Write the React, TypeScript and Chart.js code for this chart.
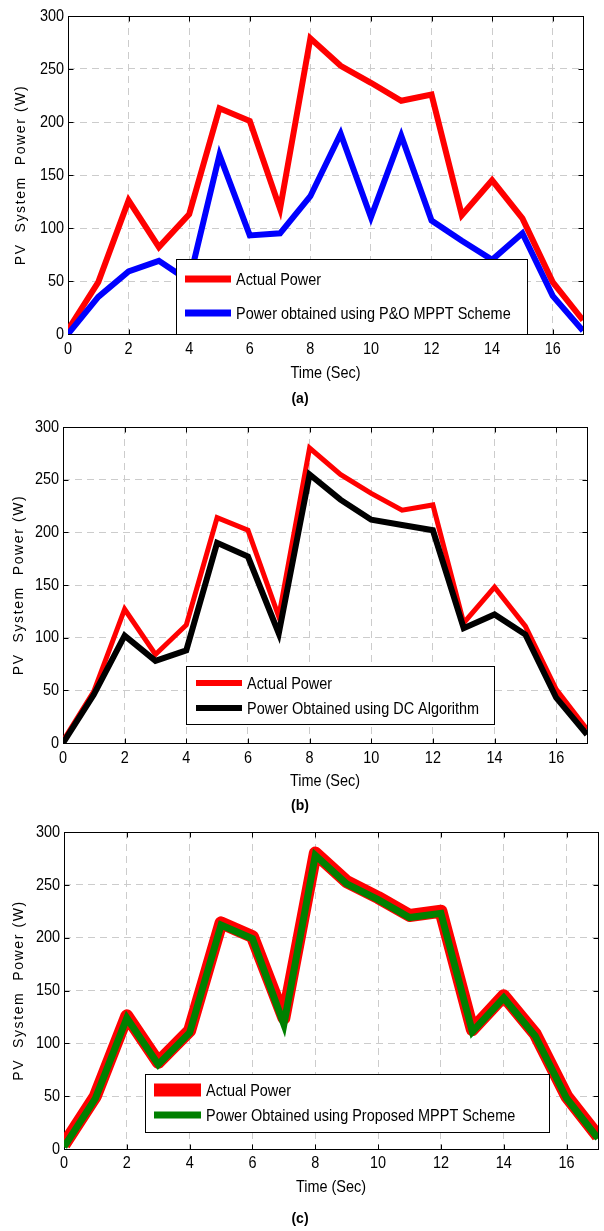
import React, { useEffect, useRef } from 'react';
import { Chart, registerables } from 'chart.js';

Chart.register(...registerables);

// ---------------- data ----------------
const timeSec = [0, 1, 2, 3, 4, 5, 6, 7, 8, 9, 10, 11, 12, 13, 14, 15, 16, 17];
const xTickValues = [0, 2, 4, 6, 8, 10, 12, 14, 16];
const yTickValues = [0, 50, 100, 150, 200, 250, 300];

const actualA = [4, 49, 126, 82, 113, 213, 201, 118, 279, 253, 237, 220, 226, 112, 145, 109, 49, 13];
const pandoA = [0, 35, 59, 69, 50, 169, 93, 95, 130, 189, 110, 187, 107, 88, 70, 95, 36, 3];

const actualB = [2, 49, 127, 84, 112, 214, 202, 120, 280, 255, 237, 221, 226, 114, 148, 111, 51, 13];
const dcB = [0, 46, 102, 78, 88, 190, 177, 104, 255, 231, 212, 207, 202, 109, 122, 103, 43, 8];

const actualC = [4, 50, 126, 82, 112, 214, 201, 124, 280, 253, 238, 221, 225, 113, 145, 109, 50, 12];
const proposedC = [2, 48, 124, 80, 110, 212, 199, 118, 278, 251, 236, 219, 223, 111, 143, 107, 48, 10];

const legendA = ['Actual Power', 'Power obtained using P&O MPPT Scheme'];
const legendB = ['Actual Power', 'Power Obtained using DC Algorithm'];
const legendC = ['Actual Power', 'Power Obtained using Proposed MPPT Scheme'];

const xTitle = 'Time (Sec)';
const yTitle = 'PV  System  Power (W)';

// ---------------- styling ----------------
const REGULAR = "'Liberation Sans', Arial, sans-serif";
const NARROW_SCALE = 0.85;
const W = 604;

type Area = { left: number; right: number; top: number; bottom: number };
type LegendCfg = {
  box: { x: number; y: number; w: number; h: number };
  lineX1: number;
  lineX2: number;
  textX: number;
  rows: { y: number; color: string; width: number; text: string }[];
};

const toPoints = (ys: number[]) => ys.map((y, i) => ({ x: timeSec[i], y }));

function narrowText(ctx: CanvasRenderingContext2D, text: string, x: number, y: number, align: CanvasTextAlign, size = 17) {
  ctx.save();
  ctx.translate(x, y);
  ctx.scale(NARROW_SCALE, 1);
  ctx.font = size + 'px ' + REGULAR;
  ctx.fillStyle = '#000';
  ctx.textAlign = align;
  ctx.textBaseline = 'middle';
  ctx.fillText(text, 0, 0);
  ctx.restore();
}

const framePlugin = {
  id: 'frame',
  beforeDatasetsDraw(chart: any) {
    const { ctx, chartArea: a, scales } = chart;
    const l = Math.round(a.left) + 0.5;
    const r = Math.round(a.right) + 0.5;
    const t = Math.round(a.top) + 0.5;
    const b = Math.round(a.bottom) + 0.5;
    ctx.save();
    ctx.strokeStyle = '#000';
    ctx.lineWidth = 1;
    ctx.strokeRect(l, t, r - l, b - t);
    ctx.beginPath();
    for (const v of xTickValues) {
      const px = Math.round(scales.x.getPixelForValue(v)) + 0.5;
      ctx.moveTo(px, b);
      ctx.lineTo(px, b - 5);
      ctx.moveTo(px, t);
      ctx.lineTo(px, t + 5);
    }
    for (const v of yTickValues) {
      const py = Math.round(scales.y.getPixelForValue(v)) + 0.5;
      ctx.moveTo(l, py);
      ctx.lineTo(l + 5, py);
      ctx.moveTo(r, py);
      ctx.lineTo(r - 5, py);
    }
    ctx.stroke();
    ctx.restore();
  },
};

const extrasPlugin = {
  id: 'extras',
  afterDraw(chart: any) {
    const opts = chart.options.plugins.extras;
    const { ctx, chartArea: a, scales } = chart;

    // tick labels
    for (const v of xTickValues) {
      narrowText(ctx, String(v), scales.x.getPixelForValue(v), a.bottom + opts.xLabelOffset, 'center');
    }
    for (const v of yTickValues) {
      narrowText(ctx, String(v), a.left - 4, scales.y.getPixelForValue(v), 'right');
    }
    // x title
    narrowText(ctx, xTitle, (a.left + a.right) / 2, opts.xTitleY, 'center');

    // y title with letter spacing
    ctx.save();
    ctx.translate(opts.yTitleX, (a.top + a.bottom) / 2);
    ctx.rotate(-Math.PI / 2);
    ctx.font = '14px ' + REGULAR;
    try {
      (ctx as any).letterSpacing = '1.6px';
    } catch (e) {}
    ctx.fillStyle = '#000';
    ctx.textAlign = 'center';
    ctx.textBaseline = 'middle';
    ctx.fillText(yTitle, 0, 0);
    ctx.restore();

    // legend box
    const lg: LegendCfg = opts.legend;
    ctx.save();
    ctx.fillStyle = '#fff';
    ctx.fillRect(lg.box.x, lg.box.y, lg.box.w, lg.box.h);
    ctx.strokeStyle = '#000';
    ctx.lineWidth = 1;
    ctx.strokeRect(lg.box.x + 0.5, lg.box.y + 0.5, lg.box.w, lg.box.h);
    for (const row of lg.rows) {
      ctx.strokeStyle = row.color;
      ctx.lineWidth = row.width;
      ctx.beginPath();
      ctx.moveTo(lg.lineX1, row.y);
      ctx.lineTo(lg.lineX2, row.y);
      ctx.stroke();
    }
    ctx.restore();
    for (const row of lg.rows) {
      narrowText(ctx, row.text, lg.textX, row.y + 1, 'left');
    }
  },
};

type PanelProps = {
  canvasTop: number;
  canvasHeight: number;
  area: Area;
  titleY: number;
  xLabelOffset: number;
  yTitleX: number;
  datasets: any[];
  legend: LegendCfg;
  caption: string;
  captionY: number;
};

function Panel(props: PanelProps) {
  const ref = useRef<HTMLCanvasElement>(null);
  useEffect(() => {
    const { canvasTop, canvasHeight, area, titleY, yTitleX, datasets, legend, xLabelOffset } = props;
    const plotBottom = area.bottom - canvasTop;
    const xScaleHeight = 50;
    const padBottom = canvasHeight - plotBottom - xScaleHeight;
    const shift = (lg: LegendCfg): LegendCfg => ({
      ...lg,
      box: { ...lg.box, y: lg.box.y - canvasTop },
      rows: lg.rows.map((r) => ({ ...r, y: r.y - canvasTop })),
    });
    const chart = new Chart(ref.current as HTMLCanvasElement, {
      type: 'line',
      data: { datasets },
      options: {
        animation: false,
        responsive: false,
        maintainAspectRatio: false,
        layout: {
          padding: { top: area.top - canvasTop, right: W - area.right, bottom: padBottom, left: 0 },
        },
        plugins: {
          legend: { display: false },
          tooltip: { enabled: false },
          extras: { legend: shift(legend), yTitleX, xTitleY: titleY - canvasTop, xLabelOffset },
        } as any,
        elements: { point: { radius: 0 }, line: { tension: 0 } },
        scales: {
          x: {
            type: 'linear',
            min: 0,
            max: 17,
            afterBuildTicks: (s: any) => {
              s.ticks = xTickValues.map((v) => ({ value: v }));
            },
            afterFit: (s: any) => {
              s.height = xScaleHeight;
            },
            grid: { color: '#cccccc', lineWidth: 1, drawTicks: false },
            border: { display: false, dash: [7, 5] },
            ticks: { display: false },
          },
          y: {
            type: 'linear',
            min: 0,
            max: 300,
            afterBuildTicks: (s: any) => {
              s.ticks = yTickValues.map((v) => ({ value: v }));
            },
            afterFit: (s: any) => {
              s.width = area.left;
            },
            grid: { color: '#cccccc', lineWidth: 1, drawTicks: false },
            border: { display: false, dash: [7, 5] },
            ticks: { display: false },
          },
        },
      },
      plugins: [framePlugin, extrasPlugin],
    } as any);
    return () => chart.destroy();
  }, []);
  return (
    <>
      <canvas
        ref={ref}
        width={W}
        height={props.canvasHeight}
        style={{ position: 'absolute', left: 0, top: props.canvasTop, width: W, height: props.canvasHeight, display: 'block' }}
      />
      <div
        style={{
          position: 'absolute',
          left: 0,
          width: W,
          top: props.captionY - 9,
          height: 18,
          lineHeight: '18px',
          textAlign: 'center',
          fontFamily: REGULAR,
          fontWeight: 'bold',
          fontSize: 14,
          color: '#000',
        }}
      >
        <span style={{ position: 'relative', left: -2 }}>{props.caption}</span>
      </div>
    </>
  );
}

export default function App() {
  const dsA = [
    { data: toPoints(actualA), borderColor: '#ff0000', borderWidth: 6, order: 2 },
    { data: toPoints(pandoA), borderColor: '#0000ff', borderWidth: 6, order: 1 },
  ];
  const dsB = [
    { data: toPoints(actualB), borderColor: '#ff0000', borderWidth: 5, order: 2 },
    { data: toPoints(dcB), borderColor: '#000000', borderWidth: 6, order: 1 },
  ];
  const dsC = [
    { data: toPoints(actualC), borderColor: '#ff0000', borderWidth: 13, borderJoinStyle: 'round', order: 2 },
    { data: toPoints(proposedC), borderColor: '#008000', borderWidth: 7, order: 1 },
  ];
  return (
    <div style={{ position: 'absolute', left: 0, top: 0, width: W, height: 1231, background: '#fff' }}>
      <Panel
        canvasTop={0}
        canvasHeight={392}
        area={{ left: 68, right: 583, top: 16, bottom: 334 }}
        titleY={373}
        xLabelOffset={15}
        yTitleX={21}
        datasets={dsA}
        caption="(a)"
        captionY={398}
        legend={{
          box: { x: 176, y: 259, w: 351, h: 75 },
          lineX1: 185,
          lineX2: 231,
          textX: 236,
          rows: [
            { y: 279, color: '#ff0000', width: 7, text: legendA[0] },
            { y: 313, color: '#0000ff', width: 7, text: legendA[1] },
          ],
        }}
      />
      <Panel
        canvasTop={405}
        canvasHeight={392}
        area={{ left: 63, right: 587, top: 427, bottom: 743 }}
        titleY={781}
        xLabelOffset={15}
        yTitleX={19}
        datasets={dsB}
        caption="(b)"
        captionY={805}
        legend={{
          box: { x: 186, y: 666, w: 308, h: 58 },
          lineX1: 196,
          lineX2: 242,
          textX: 247,
          rows: [
            { y: 683, color: '#ff0000', width: 6, text: legendB[0] },
            { y: 708, color: '#000000', width: 6, text: legendB[1] },
          ],
        }}
      />
      <Panel
        canvasTop={815}
        canvasHeight={385}
        area={{ left: 64, right: 598, top: 832, bottom: 1149 }}
        titleY={1187}
        xLabelOffset={14}
        yTitleX={19}
        datasets={dsC}
        caption="(c)"
        captionY={1218}
        legend={{
          box: { x: 145, y: 1074, w: 404, h: 58 },
          lineX1: 154,
          lineX2: 201,
          textX: 206,
          rows: [
            { y: 1090, color: '#ff0000', width: 13, text: legendC[0] },
            { y: 1115, color: '#008000', width: 7, text: legendC[1] },
          ],
        }}
      />
    </div>
  );
}
